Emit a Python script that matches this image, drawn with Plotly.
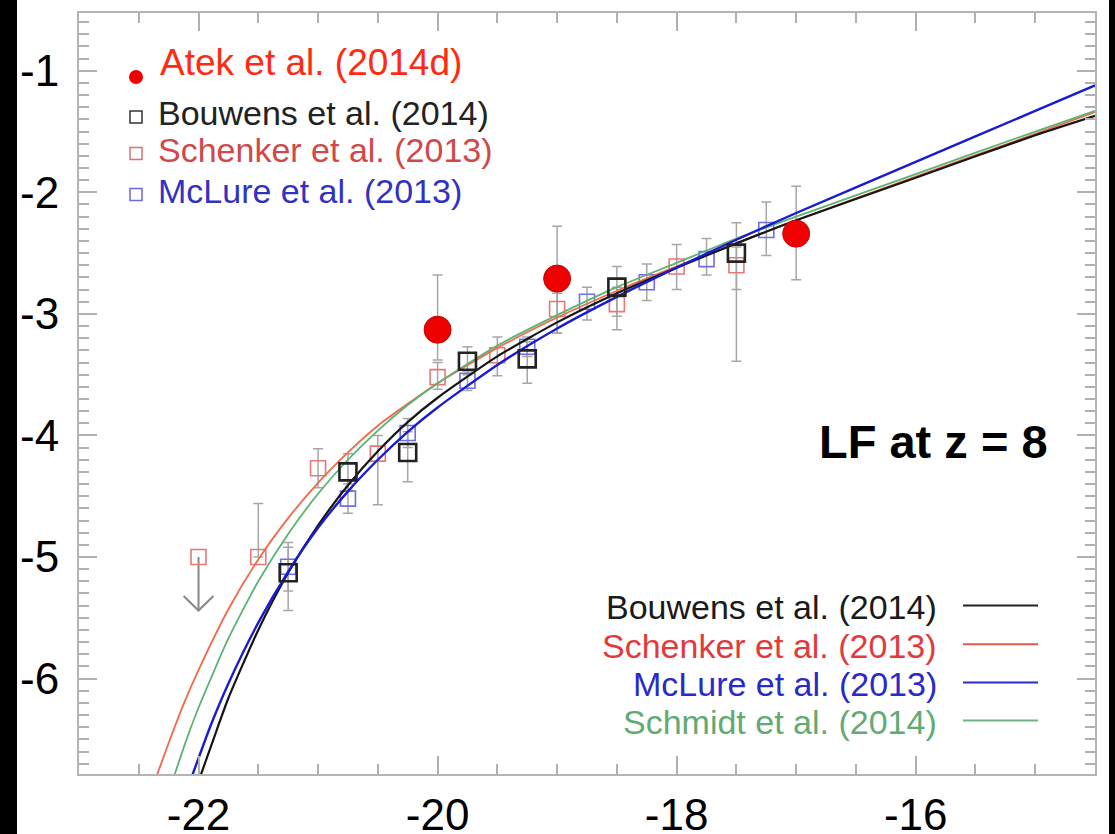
import plotly.graph_objects as go

# ---------------- data ----------------
atek_M = [-20.0, -19.0, -17.0]
atek_phi = [-3.13, -2.71, -2.34]
atek_err_up = [0.45, 0.43, 0.39]
atek_err_dn = [0.25, 0.45, 0.38]

bouwens_M = [-21.25, -20.75, -20.25, -19.75, -19.25, -18.5, -17.5]
bouwens_phi = [-5.13, -4.30, -4.14, -3.39, -3.37, -2.78, -2.50]
bouwens_err_up = [0.21, 0.15, 0.17, 0.12, 0.14, 0.17, 0.25]
bouwens_err_dn = [0.31, 0.15, 0.24, 0.11, 0.20, 0.24, 0.89]

schenker_M = [-21.5, -21.0, -20.5, -20.0, -19.5, -19.0, -18.5, -18.0, -17.5]
schenker_phi = [-5.00, -4.27, -4.15, -3.52, -3.34, -2.96, -2.92, -2.61, -2.60]
schenker_err_up = [0.44, 0.16, 0.15, 0.12, 0.15, 0.13, 0.14, 0.18, 0.15]
schenker_err_dn = [0.0, 0.16, 0.42, 0.10, 0.17, 0.20, 0.21, 0.19, 0.20]
schenker_limit_M = [-22.0]
schenker_limit_phi = [-5.0]
schenker_limit_drop = [0.44]

mclure_M = [-21.25, -20.75, -20.25, -19.75, -19.25, -18.75, -18.25, -17.75, -17.25]
mclure_phi = [-5.08, -4.52, -3.98, -3.55, -3.27, -2.90, -2.74, -2.55, -2.31]
mclure_err_up = [0.20, 0.12, 0.12, 0.08, 0.08, 0.12, 0.15, 0.17, 0.23]
mclure_err_dn = [0.20, 0.12, 0.12, 0.08, 0.08, 0.15, 0.15, 0.13, 0.21]

# fitted LF curves
fit_bouwens_M = [-21.98, -21.85, -21.75, -21.5, -21.25, -21.0, -20.75, -20.5, -20.25, -20.0,
                 -19.5, -19.0, -18.5, -18.0, -17.5, -17.0, -16.0, -15.0, -14.5]
fit_bouwens_phi = [-6.79, -6.43, -6.16, -5.60, -5.13, -4.74, -4.41, -4.13, -3.89, -3.69,
                   -3.35, -3.07, -2.83, -2.62, -2.42, -2.23, -1.88, -1.53, -1.37]
fit_mclure_M = [-22.05, -21.9, -21.75, -21.5, -21.25, -21.0, -20.75, -20.5, -20.25, -20.0,
                -19.5, -19.0, -18.5, -18.0, -17.5, -17.0, -16.0, -15.0, -14.5]
fit_mclure_phi = [-6.79, -6.39, -6.04, -5.54, -5.12, -4.76, -4.46, -4.20, -3.97, -3.77,
                  -3.42, -3.12, -2.86, -2.62, -2.39, -2.17, -1.75, -1.33, -1.12]
fit_schmidt_M = [-22.2, -22.1, -22.0, -21.75, -21.5, -21.25, -21.0, -20.75, -20.5, -20.25,
                 -20.0, -19.5, -19.0, -18.5, -18.0, -17.5, -17.0, -16.0, -15.0, -14.5]
fit_schmidt_phi = [-6.79, -6.50, -6.24, -5.67, -5.20, -4.81, -4.48, -4.20, -3.96, -3.75,
                   -3.57, -3.26, -3.01, -2.78, -2.58, -2.38, -2.20, -1.85, -1.50, -1.33]
fit_schenker_M = [-22.35, -22.25, -22.125, -22.0, -21.75, -21.5, -21.25, -21.0, -20.75, -20.5,
                  -20.25, -20.0, -19.5, -19.0, -18.5, -18.0, -17.5, -17.0, -16.0, -15.0, -14.5]
fit_schenker_phi = [-6.80, -6.53, -6.21, -5.93, -5.43, -5.02, -4.68, -4.39, -4.14, -3.92,
                    -3.74, -3.57, -3.28, -3.03, -2.81, -2.61, -2.42, -2.23, -1.87, -1.52, -1.34]

x_range = [-23.0, -14.5]
y_range = [-6.785, -0.525]
x_ticks = [-22, -20, -18, -16]
y_ticks = [-1, -2, -3, -4, -5, -6]

# ---------------- styling ----------------
FONT = "Liberation Sans, Arial, Helvetica, sans-serif"
ERR = "#a6a6a6"
W, H = 1115, 834
L, R, T, B = 79, 20, 13, 60
PW, PH = W - L - R, H - T - B


def px(x):
    return (x - L) / PW


def py(y):
    return (H - B - y) / PH


fig = go.Figure()


def err_trace(xs, ys, up, dn):
    fig.add_trace(go.Scatter(
        x=xs, y=ys, mode="markers", marker=dict(size=1, opacity=0),
        error_y=dict(type="data", symmetric=False, array=up, arrayminus=dn,
                     color=ERR, thickness=1.5, width=5),
        showlegend=False, hoverinfo="skip"))


err_trace(schenker_M, schenker_phi, schenker_err_up, schenker_err_dn)
err_trace(mclure_M, mclure_phi, mclure_err_up, mclure_err_dn)
err_trace(bouwens_M, bouwens_phi, bouwens_err_up, bouwens_err_dn)
err_trace(atek_M, atek_phi, atek_err_up, atek_err_dn)

# upper-limit arrow for Schenker brightest bin
for xm, ym, d in zip(schenker_limit_M, schenker_limit_phi, schenker_limit_drop):
    fig.add_trace(go.Scatter(x=[xm, xm], y=[ym, ym - d], mode="lines",
                             line=dict(color="#888888", width=2),
                             showlegend=False, hoverinfo="skip"))
    fig.add_trace(go.Scatter(x=[xm - 0.125, xm, xm + 0.125],
                             y=[ym - d + 0.12, ym - d, ym - d + 0.12], mode="lines",
                             line=dict(color="#888888", width=2),
                             showlegend=False, hoverinfo="skip"))

# open squares
fig.add_trace(go.Scatter(x=schenker_M + schenker_limit_M, y=schenker_phi + schenker_limit_phi,
                         mode="markers",
                         marker=dict(symbol="square-open", size=15, color="#e87878",
                                     line=dict(width=1.6, color="#e87878")),
                         showlegend=False))
fig.add_trace(go.Scatter(x=mclure_M, y=mclure_phi, mode="markers",
                         marker=dict(symbol="square-open", size=15, color="#6e6ee6",
                                     line=dict(width=1.6, color="#6e6ee6")),
                         showlegend=False))

# curves
fig.add_trace(go.Scatter(x=fit_schenker_M, y=fit_schenker_phi, mode="lines",
                         line=dict(color="#f06a48", width=1.8, shape="spline", smoothing=0.6),
                         showlegend=False))
fig.add_trace(go.Scatter(x=fit_schmidt_M, y=fit_schmidt_phi, mode="lines",
                         line=dict(color="#5cb274", width=1.8, shape="spline", smoothing=0.6),
                         showlegend=False))
fig.add_trace(go.Scatter(x=fit_bouwens_M, y=fit_bouwens_phi, mode="lines",
                         line=dict(color="#151515", width=2.2, shape="spline", smoothing=0.6),
                         showlegend=False))
fig.add_trace(go.Scatter(x=fit_mclure_M, y=fit_mclure_phi, mode="lines",
                         line=dict(color="#1a1ad2", width=2.4, shape="spline", smoothing=0.6),
                         showlegend=False))

# Bouwens squares on top
fig.add_trace(go.Scatter(x=bouwens_M, y=bouwens_phi, mode="markers",
                         marker=dict(symbol="square-open", size=17, color="#222222",
                                     line=dict(width=2.6, color="#222222")),
                         showlegend=False))
# Atek filled circles
fig.add_trace(go.Scatter(x=atek_M, y=atek_phi, mode="markers",
                         marker=dict(symbol="circle", size=27, color="#ee0000",
                                     line=dict(width=1, color="#c80000")),
                         showlegend=False))

shapes = []
annotations = []

# black strips at image edges
shapes.append(dict(type="rect", xref="paper", yref="paper", x0=px(-10), x1=px(17),
                   y0=py(H + 5), y1=py(-5), fillcolor="black", line=dict(width=0),
                   layer="below"))
shapes.append(dict(type="rect", xref="paper", yref="paper", x0=px(1109), x1=px(W + 5),
                   y0=py(H + 5), y1=py(-5), fillcolor="black", line=dict(width=0),
                   layer="below"))

# top-left symbol legend
shapes.append(dict(type="circle", xref="paper", yref="paper", xsizemode="pixel",
                   ysizemode="pixel", xanchor=px(136), yanchor=py(77),
                   x0=-7, x1=7, y0=-7, y1=7, fillcolor="#ee0000", line=dict(width=0)))
top_items = [("Bouwens et al. (2014)", "#222222", "#333333", 117, 113),
             ("Schenker et al. (2013)", "#d04848", "#e07070", 153.5, 150.5),
             ("McLure et al. (2013)", "#3232c0", "#6a6ae0", 194.5, 190.7)]
annotations.append(dict(text="Atek et al. (2014d)", xref="paper", yref="paper",
                        x=px(158), y=py(63), xanchor="left", yanchor="middle",
                        showarrow=False, font=dict(family=FONT, size=37, color="#ff2a10")))
for txt, col, scol, sy, ty in top_items:
    shapes.append(dict(type="rect", xref="paper", yref="paper", xsizemode="pixel",
                       ysizemode="pixel", xanchor=px(136), yanchor=py(sy),
                       x0=-6, x1=6, y0=-6, y1=6, line=dict(color=scol, width=1.5)))
    annotations.append(dict(text=txt, xref="paper", yref="paper", x=px(156), y=py(ty),
                            xanchor="left", yanchor="middle", showarrow=False,
                            font=dict(family=FONT, size=34, color=col)))

# bottom-right curve legend
br_items = [("Bouwens et al. (2014)", "#1a1a1a", "#222222", 605.5),
            ("Schenker et al. (2013)", "#e23a3a", "#e05a50", 644.3),
            ("McLure et al. (2013)", "#2a2ac8", "#2a2ac8", 682.6),
            ("Schmidt et al. (2014)", "#62aa74", "#70b484", 720.4)]
for txt, col, lcol, ly in br_items:
    shapes.append(dict(type="line", xref="paper", yref="paper", x0=px(963), x1=px(1038),
                       y0=py(ly), y1=py(ly), line=dict(color=lcol, width=2)))
    annotations.append(dict(text=txt, xref="paper", yref="paper", x=px(939), y=py(ly + 1.5),
                            xanchor="right", yanchor="middle", showarrow=False,
                            font=dict(family=FONT, size=34, color=col)))

annotations.append(dict(text="<b>LF at z = 8</b>", xref="paper", yref="paper",
                        x=px(933), y=py(442), xanchor="center", yanchor="middle",
                        showarrow=False, font=dict(family=FONT, size=47, color="black")))

axis_common = dict(showline=True, linecolor="#b4b4b4", linewidth=2, mirror="allticks",
                   ticks="inside", tickcolor="#b0b0b0", tickwidth=1.5, ticklen=18,
                   showgrid=False, zeroline=False, automargin=False,
                   tickfont=dict(family=FONT, size=44, color="black"))

fig.update_layout(
    width=W, height=H, margin=dict(l=L, r=R, t=T, b=B, autoexpand=False),
    paper_bgcolor="white", plot_bgcolor="white",
    xaxis=dict(range=x_range, tickvals=x_ticks, ticktext=[str(v) for v in x_ticks],
               minor=dict(dtick=0.5, tick0=-22, ticklen=10, ticks="inside",
                          tickcolor="#b0b0b0", tickwidth=1.5),
               ticklabelstandoff=1, **axis_common),
    yaxis=dict(range=y_range, tickvals=y_ticks, ticktext=[str(v) for v in y_ticks],
               minor=dict(dtick=0.1, tick0=0, ticklen=10, ticks="inside",
                          tickcolor="#b0b0b0", tickwidth=1.5),
               ticklabelstandoff=9, **axis_common),
    shapes=shapes, annotations=annotations, showlegend=False,
)

fig.write_html("out.html", config={"displayModeBar": False},
               post_script="document.body.style.margin='0px';"
                           "document.body.style.overflow='hidden';")
